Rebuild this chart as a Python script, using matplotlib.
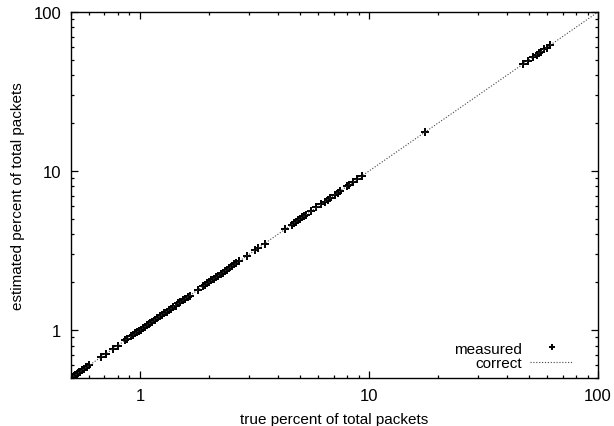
import matplotlib
matplotlib.use('Agg')
import matplotlib.pyplot as plt
from matplotlib.ticker import LogLocator, FixedLocator, FixedFormatter, NullFormatter

plt.rcParams['font.family'] = ['Liberation Sans', 'DejaVu Sans']

# true vs. estimated share of packets (percent)
true_pct = [
    0.50, 0.505, 0.51, 0.515, 0.52, 0.525, 0.53, 0.535, 0.54, 0.55, 0.56, 0.57, 0.58, 0.59, 0.60,
    0.675, 0.71, 0.76, 0.80,
    0.86, 0.88, 0.91, 0.93, 0.95, 0.97, 0.99, 1.01, 1.03, 1.05, 1.07, 1.09, 1.11, 1.13, 1.16,
    1.19, 1.22, 1.25, 1.28, 1.31, 1.34, 1.37, 1.40, 1.43, 1.47, 1.50, 1.54, 1.58, 1.62, 1.65,
    1.79,
    1.88, 1.92, 1.96, 2.00, 2.05, 2.10, 2.15, 2.20, 2.25, 2.30, 2.35, 2.40, 2.46, 2.52, 2.58,
    2.64, 2.70,
    2.93, 3.18, 3.27, 3.50,
    4.30, 4.60, 4.70, 4.80, 4.90, 5.00, 5.10, 5.20, 5.30, 5.60, 5.90, 6.20, 6.40, 6.60, 6.75,
    7.10, 7.30, 7.50, 8.00, 8.20, 8.50, 8.90, 9.30,
    17.6,
    47.0, 49.5, 52.0, 54.0, 55.0, 56.5, 58.0, 60.0, 61.5,
]
est_pct = [
    0.50, 0.507, 0.508, 0.517, 0.521, 0.523, 0.532, 0.534, 0.543, 0.548, 0.562, 0.568, 0.583, 0.588, 0.602,
    0.678, 0.708, 0.763, 0.797,
    0.862, 0.878, 0.913, 0.928, 0.953, 0.968, 0.993, 1.008, 1.034, 1.047, 1.073, 1.088, 1.113, 1.128, 1.163,
    1.187, 1.224, 1.247, 1.284, 1.307, 1.344, 1.366, 1.404, 1.427, 1.474, 1.497, 1.545, 1.576, 1.625, 1.646,
    1.795,
    1.885, 1.916, 1.965, 1.995, 2.056, 2.094, 2.157, 2.194, 2.257, 2.294, 2.357, 2.394, 2.467, 2.514, 2.587,
    2.634, 2.708,
    2.94, 3.17, 3.28, 3.49,
    4.31, 4.59, 4.72, 4.79, 4.92, 4.99, 5.12, 5.19, 5.32, 5.59, 5.92, 6.19, 6.42, 6.59, 6.77,
    7.09, 7.32, 7.49, 8.03, 8.18, 8.53, 8.88, 9.33,
    17.7,
    47.3, 49.3, 52.3, 53.8, 55.3, 56.3, 58.3, 59.8, 61.8,
]
line_ends = [0.5, 100]
tick_vals = [1, 10, 100]
tick_text = ['1', '10', '100']

fig = plt.figure(figsize=(6.14, 4.27), dpi=100)
ax = fig.add_axes([0.1156, 0.1124, 0.8584, 0.8572])

ax.plot(true_pct, est_pct, linestyle='none', marker='+', markersize=5.5,
        markeredgewidth=1.4, color='black', label='measured')
ax.plot(line_ends, line_ends, linestyle=(0, (1, 1.6)), linewidth=0.8,
        color='#444444', label='correct')

ax.set_xscale('log')
ax.set_yscale('log')
ax.set_xlim(0.5, 100)
ax.set_ylim(0.5, 100)

for axis in (ax.xaxis, ax.yaxis):
    axis.set_major_locator(FixedLocator(tick_vals))
    axis.set_major_formatter(FixedFormatter(tick_text))
    axis.set_minor_locator(LogLocator(base=10, subs=range(2, 10)))
    axis.set_minor_formatter(NullFormatter())

ax.tick_params(which='both', direction='in', top=True, right=True, labelsize=12, width=0.9)
ax.tick_params(which='major', length=5, pad=7)
ax.tick_params(which='minor', length=2.5)
for spine in ax.spines.values():
    spine.set_linewidth(1.0)

ax.set_xlabel('true percent of total packets', fontsize=11, labelpad=7)
ax.set_ylabel('estimated percent of total packets', fontsize=11, labelpad=6)

ax.legend(loc='lower right', frameon=False, markerfirst=False, fontsize=11,
          handlelength=2.8, handletextpad=0.53, labelspacing=0.05,
          borderpad=0, borderaxespad=0, markerscale=0.75,
          bbox_to_anchor=(0.9526, 0.021))

fig.savefig('out.png', dpi=100)
